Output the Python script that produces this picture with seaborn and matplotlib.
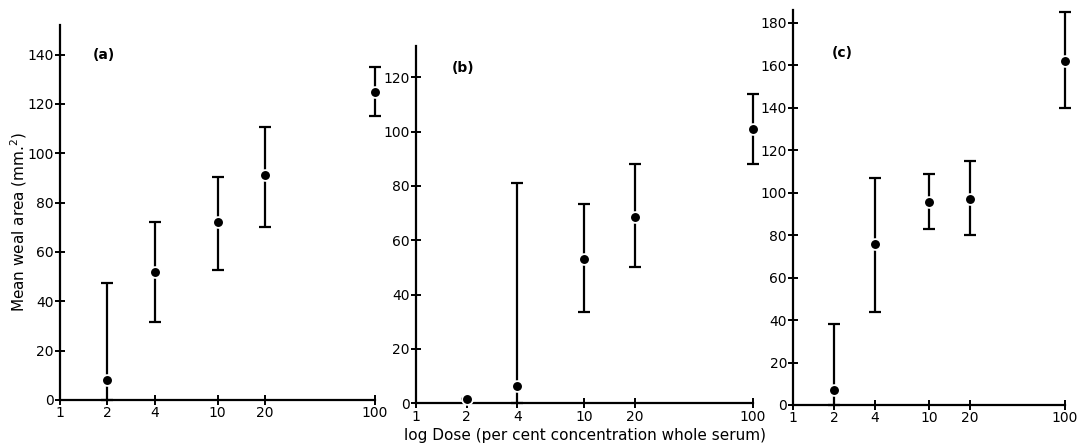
import numpy as np
import pandas as pd
import matplotlib
matplotlib.use("Agg")
import matplotlib.pyplot as plt
import seaborn as sns

# ── Data ────────────────────────────────────────────────────────
DOSES = [2, 4, 10, 20, 100]
DOSE_TICKS = [1, 2, 4, 10, 20, 100]

# panel (a)
A_MEAN = [8, 52, 72, 91, 125]
A_LOW  = [0, 31.5, 52.5, 70, 115]
A_HIGH = [47.5, 72, 90.5, 110.5, 135]

# panel (b)
B_MEAN = [1.5, 6.5, 53, 68.5, 101]
B_LOW  = [1.5, 0, 33.5, 50, 88]
B_HIGH = [1.5, 81, 73.5, 88, 114]

# panel (c)
C_MEAN = [7, 76, 95.5, 97, 162]
C_LOW  = [0, 44, 83, 80, 140]
C_HIGH = [38, 107, 109, 115, 185]

PANELS = [
    ("(a)", A_MEAN, A_LOW, A_HIGH, [0, 20, 40, 60, 80, 100, 120, 140], 152),
    ("(b)", B_MEAN, B_LOW, B_HIGH, [0, 20, 40, 60, 80, 100, 120], 131.5),
    ("(c)", C_MEAN, C_LOW, C_HIGH, [0, 20, 40, 60, 80, 100, 120, 140, 160, 180], 186),
]

# axes rectangles in figure fraction
RECTS = [
    [0.0556, 0.0971, 0.2920, 0.8465],
    [0.3855, 0.0896, 0.3120, 0.8065],
    [0.7352, 0.0858, 0.2518, 0.8916],
]
LABEL_POS = [(0.105, 0.92), (0.107, 0.938), (0.143, 0.891)]

sns.set_theme(style="ticks")
plt.rcParams["font.family"] = ["DejaVu Sans"]
plt.rcParams["text.color"] = "black"

fig = plt.figure(figsize=(10.79, 4.43), dpi=100)

for (tag, mean, low, high, yticks, ytop), rect, lpos in zip(PANELS, RECTS, LABEL_POS):
    ax = fig.add_axes(rect)
    df = pd.DataFrame({"dose": DOSES, "mean": mean, "low": low, "high": high})
    yerr = np.vstack([df["mean"] - df["low"], df["high"] - df["mean"]])
    eb = ax.errorbar(df["dose"], df["mean"], yerr=yerr, fmt="none",
                     ecolor="black", elinewidth=1.6, capsize=4, capthick=1.6,
                     zorder=2)
    for art in eb.lines[1] + eb.lines[2]:
        art.set_clip_on(False)
    sns.scatterplot(data=df, x="dose", y="mean", ax=ax, color="black",
                    s=60, edgecolor="white", linewidth=1.3, zorder=3,
                    legend=False, clip_on=False)

    ax.set_xscale("log")
    ax.set_xlim(1, 100)
    ax.set_ylim(0, ytop)
    ax.set_xticks(DOSE_TICKS)
    ax.set_xticklabels([str(d) for d in DOSE_TICKS])
    ax.minorticks_off()
    ax.set_yticks(yticks)
    ax.set_xlabel("")
    ax.set_ylabel("")

    ax.spines[["top", "right"]].set_visible(False)
    for s in ["left", "bottom"]:
        ax.spines[s].set_linewidth(1.6)
        ax.spines[s].set_color("black")
    ax.tick_params(axis="both", direction="inout", length=7, width=1.4,
                   colors="black", labelsize=10, pad=1)
    ax.text(lpos[0], lpos[1], tag, transform=ax.transAxes, ha="left",
            va="center", fontsize=10, fontweight="bold")
    ax.set_facecolor("white")

fig.text(0.017, 0.50, "Mean weal area (mm.$^2$)", rotation=90,
         ha="center", va="center", fontsize=11)
fig.text(0.542, 0.018, "log Dose (per cent concentration whole serum)",
         ha="center", va="center", fontsize=11)

fig.savefig("out.png", dpi=100, facecolor="white")
plt.close(fig)
